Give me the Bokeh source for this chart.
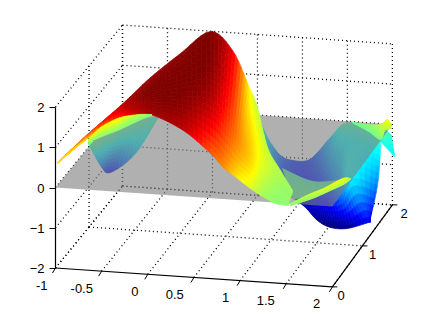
from bokeh.embed import file_html
from bokeh.resources import INLINE
from bokeh.plotting import figure
from bokeh.models import Range1d, LinearAxis, FixedTicker
from bokeh.core.properties import value

# ---- tick values and labels ----
x_ticks = [-1, -0.5, 0, 0.5, 1, 1.5, 2]
x_labels = ["-1", "-0.5", "0", "0.5", "1", "1.5", "2"]
y_ticks = [0, 1, 2]
y_labels = ["0", "1", "2"]
z_ticks = [-2, -1, 0, 1, 2]

# ---- surface sheets: rows of (x, y, z) ----
sheet_red_x = [
    [-0.919, -0.916, -0.914, -0.911],
    [-0.661, -0.700, -0.739, -0.796],
    [-0.436, -0.425, -0.430, -0.453],
    [-0.335, -0.285, -0.260, -0.261],
    [-0.272, -0.138, -0.046, 0.021],
    [-0.149, 0.096, 0.299, 0.460],
    [-0.009, 0.318, 0.569, 0.744],
    [0.242, 0.504, 0.732, 0.928],
    [0.379, 0.664, 0.917, 1.045],
    [0.554, 0.844, 1.074, 1.195],
    [0.992, 1.139, 1.228, 1.318],
    [1.301, 1.356, 1.421, 1.476],
    [1.559, 1.590, 1.605, 1.626],
]
sheet_red_y = [
    [-0.163, -0.170, -0.178, -0.186],
    [0.020, 0.129, 0.236, 0.392],
    [0.296, 0.266, 0.280, 0.343],
    [0.407, 0.268, 0.199, 0.201],
    [0.831, 0.462, 0.208, 0.023],
    [1.387, 0.741, 0.212, -0.202],
    [1.896, 0.995, 0.303, -0.178],
    [1.864, 1.050, 0.331, -0.296],
    [1.963, 1.056, 0.240, -0.203],
    [1.749, 0.888, 0.168, -0.226],
    [0.840, 0.375, 0.072, -0.207],
    [0.376, 0.164, -0.045, -0.255],
    [0.025, -0.092, -0.192, -0.281],
]
sheet_red_z = [
    [0.80, 0.80, 0.80, 0.80],
    [1.35, 1.20, 1.05, 0.85],
    [1.75, 1.70, 1.60, 1.45],
    [1.95, 1.95, 1.85, 1.70],
    [2.00, 2.10, 2.05, 1.95],
    [2.05, 2.10, 2.05, 1.85],
    [2.10, 2.05, 1.80, 1.30],
    [1.70, 1.60, 1.40, 1.10],
    [0.75, 0.95, 1.05, 0.75],
    [0.45, 0.70, 0.80, 0.55],
    [0.45, 0.55, 0.45, 0.35],
    [0.40, 0.35, 0.30, 0.25],
    [0.30, 0.30, 0.28, 0.25],
]

sheet_crest_x = [
    [-0.895, -0.920], [-0.805, -0.877], [-0.705, -0.757],
    [-0.649, -0.691], [-0.584, -0.614], [-0.526, -0.551],
]
sheet_crest_y = [
    [0.697, 0.766], [0.806, 1.005], [1.040, 1.182],
    [1.271, 1.388], [1.452, 1.534], [1.558, 1.629],
]
sheet_crest_z = [
    [0.50, 0.35], [0.70, 0.25], [0.70, 0.25],
    [0.55, 0.20], [0.40, 0.20], [0.30, 0.20],
]

sheet_left_x = [
    [-0.980, -0.980, -0.980],
    [-0.873, -0.907, -0.959],
    [-0.765, -0.857, -0.966],
    [-0.664, -0.648, -0.633],
    [-0.538, -0.538, -0.538],
]
sheet_left_y = [
    [0.930, 0.930, 0.930],
    [1.141, 1.161, 1.231],
    [1.353, 1.427, 1.549],
    [1.612, 1.493, 1.376],
    [1.803, 1.803, 1.803],
]
sheet_left_z = [
    [0.15, 0.15, 0.15],
    [0.15, -0.25, -0.70],
    [0.15, -0.50, -1.20],
    [0.10, -0.20, -0.50],
    [0.00, 0.00, 0.00],
]

sheet_bowl_x = [
    [0.513, 0.555, 0.597, 0.622],
    [0.638, 0.724, 0.809, 0.878],
    [0.771, 0.853, 0.961, 1.077],
    [0.862, 0.995, 1.119, 1.244],
    [1.005, 1.170, 1.328, 1.408],
    [1.108, 1.308, 1.502, 1.567],
    [1.251, 1.512, 1.740, 1.766],
    [1.468, 1.549, 1.861, 2.067],
    [1.857, 1.940, 2.034, 2.060],
]
sheet_bowl_y = [
    [1.890, 1.776, 1.660, 1.591],
    [1.815, 1.609, 1.404, 1.245],
    [1.838, 1.730, 1.552, 1.352],
    [1.975, 1.728, 1.504, 1.280],
    [1.997, 1.633, 1.317, 1.185],
    [2.012, 1.580, 1.197, 1.137],
    [2.007, 1.439, 0.987, 1.094],
    [1.916, 1.783, 0.954, 0.894],
    [1.829, 1.600, 1.251, 0.942],
]
sheet_bowl_z = [
    [0.10, 0.05, 0.00, -0.10],
    [-0.35, -0.45, -0.60, -0.80],
    [-0.80, -1.00, -1.15, -1.30],
    [-1.05, -1.15, -1.30, -1.45],
    [-1.05, -1.15, -1.30, -1.65],
    [-0.85, -1.00, -1.20, -1.75],
    [-0.45, -0.60, -0.85, -1.70],
    [0.05, -0.25, -0.30, -1.30],
    [0.05, -0.25, -0.75, -1.35],
]

sheet_wing_x = [[1.896, 1.899], [1.978, 2.118]]
sheet_wing_y = [[1.811, 1.715], [1.824, 1.530]]
sheet_wing_z = [[0.10, -0.15], [-0.10, -0.30]]

sheet_under_x = [[1.187, 1.577], [1.597, 1.775], [1.936, 1.944]]
sheet_under_y = [[0.751, 0.005], [0.545, 0.206], [0.598, 0.574]]
sheet_under_z = [[0.05, 0.10], [0.00, 0.10], [0.05, 0.05]]

sheet_band_x = [
    [1.647, 1.647], [1.807, 1.831], [1.944, 1.982], [2.089, 2.065], [2.070, 2.061],
]
sheet_band_y = [
    [-0.278, -0.278], [-0.181, -0.128], [-0.112, -0.008], [0.056, 0.151], [0.348, 0.371],
]
sheet_band_z = [
    [0.30, 0.25], [0.45, 0.30], [0.55, 0.40], [0.65, 0.40], [0.35, 0.30],
]

sheet_tip_x = [
    [1.553, 1.553], [1.768, 1.793], [1.959, 2.000], [2.056, 2.033], [2.105, 2.095],
]
sheet_tip_y = [
    [1.830, 1.830], [1.717, 1.648], [1.550, 1.435], [1.490, 1.464], [1.474, 1.473],
]
sheet_tip_z = [
    [0.15, 0.15], [0.25, 0.15], [0.45, 0.20], [0.65, 0.40], [0.50, 0.45],
]


def project(x, y, z):
    X = x + 1
    return 55 + 92.3 * X + 33.5 * y, 187 + 6.3 * X - 41 * y - 40.25 * z


def box(x, y, z):
    px, py = project(x, y, z)
    return px - 7 * (x + 1) * y / 6, py


def jet(z):
    t = max(0.0, min(1.0, (z + 1.7) / 3.8))
    ch = lambda c: max(0.0, min(1.0, 1.5 - abs(4 * t - c)))
    return "#%02x%02x%02x" % (round(255 * ch(3)), round(255 * ch(2)), round(255 * ch(1)))


p = figure(width=426, height=315, x_range=Range1d(0, 426), y_range=Range1d(315, 0),
           output_backend="svg", toolbar_location=None,
           x_axis_location=None, y_axis_location=None, min_border=0)
p.outline_line_color = None
p.grid.visible = False
p.background_fill_color = "white"
p.border_fill_color = "white"


def spline(v, t):
    """Catmull-Rom through a list of values, t in [0, len(v)-1]: smooth shading of a sheet."""
    n = len(v)
    i = min(int(t), n - 2)
    f = t - i
    p0 = v[max(i - 1, 0)]
    p1, p2 = v[i], v[i + 1]
    p3 = v[min(i + 2, n - 1)]
    return 0.5 * (2 * p1 + (p2 - p0) * f + (2 * p0 - 5 * p1 + 4 * p2 - p3) * f * f
                  + (3 * p1 - p0 - 3 * p2 + p3) * f * f * f)


def draw_sheet(sx, sy, sz, n=6):
    rows, cols = len(sx), len(sx[0])
    nu, nv = (rows - 1) * n, (cols - 1) * n

    def at(a, b):
        u, v = a / n, b / n
        return tuple(spline([spline(r, v) for r in g], u) for g in (sx, sy, sz))

    vert = [[at(a, b) for b in range(nv + 1)] for a in range(nu + 1)]
    xs, ys, cs = [], [], []
    for a in range(nu):
        for b in range(nv):
            corners = [vert[a][b], vert[a][b + 1], vert[a + 1][b + 1], vert[a + 1][b]]
            pts = [project(*c) for c in corners]
            xs.append([q[0] for q in pts])
            ys.append([q[1] for q in pts])
            cs.append(jet(sum(c[2] for c in corners) / 4))
    p.patches(xs, ys, fill_color=cs, line_color=cs, line_width=0.7)


def dotted(a, b):
    (x0, y0), (x1, y1) = box(*a), box(*b)
    p.line([x0, x1], [y0, y1], line_color="black", line_width=1.3, line_dash="1 3")


# grid on floor and walls
for x in x_ticks:
    dotted((x, 0, -2), (x, 2, -2))
    dotted((x, 2, -2), (x, 2, 2))
for y in y_ticks[1:]:
    dotted((-1, y, -2), (2, y, -2))
    dotted((-1, y, -2), (-1, y, 2))
for z in z_ticks:
    dotted((-1, 0, z), (-1, 2, z))
    dotted((-1, 2, z), (2, 2, z))

# sheets under the plane
draw_sheet(sheet_bowl_x, sheet_bowl_y, sheet_bowl_z)
draw_sheet(sheet_wing_x, sheet_wing_y, sheet_wing_z)
draw_sheet(sheet_under_x, sheet_under_y, sheet_under_z)
draw_sheet(sheet_left_x, sheet_left_y, sheet_left_z)

# translucent plane z = 0
plane = [box(-1, 0, 0), box(2, 0, 0), box(2, 2, 0), box(-1, 2, 0)]
p.patch([q[0] for q in plane], [q[1] for q in plane], fill_color="#808080", fill_alpha=0.62, line_color=None)

# sheets over the plane
draw_sheet(sheet_tip_x, sheet_tip_y, sheet_tip_z)
draw_sheet(sheet_band_x, sheet_band_y, sheet_band_z)
draw_sheet(sheet_red_x, sheet_red_y, sheet_red_z)
draw_sheet(sheet_crest_x, sheet_crest_y, sheet_crest_z)

# x and y axes with ticks and labels
ax0, ax1, ax2 = box(-1, 0, -2), box(2, 0, -2), box(2, 2, -2)
p.line([ax0[0], ax1[0], ax2[0]], [ax0[1], ax1[1], ax2[1]], line_color="black", line_width=1.2)
FONT = value("Liberation Sans")
SIZE = value("13px")
for t, lab in zip(x_ticks, x_labels):
    bx, by = box(t, 0, -2)
    p.line([bx, bx - 3], [by, by + 5], line_color="black", line_width=1)
    p.text([bx - 8 - 1.4 * (t + 1)], [by + 17], text=[lab], text_font=FONT, text_font_size=SIZE,
           text_align="right", text_baseline="middle", text_color="black")
for t, lab in zip(y_ticks, y_labels):
    bx, by = box(2, t, -2)
    p.line([bx, bx + 5], [by, by], line_color="black", line_width=1)
    p.text([bx + 5 + 1.5 * t], [by + 9], text=[lab], text_font=FONT, text_font_size=SIZE,
           text_align="left", text_baseline="middle", text_color="black")

# z axis: a real axis fixed at the left corner of the box
p.extra_y_ranges = {"z": Range1d(-2 - (315 - 268) / 40.25, -2 + 268 / 40.25)}
zaxis = LinearAxis(y_range_name="z", ticker=FixedTicker(ticks=z_ticks), bounds=(-2, 2))
zaxis.fixed_location = 55
zaxis.axis_line_color = "black"
zaxis.axis_line_width = 1.2
zaxis.major_tick_line_color = "black"
zaxis.major_tick_out = 6
zaxis.major_tick_in = 0
zaxis.minor_tick_line_color = None
zaxis.major_label_standoff = 5
zaxis.major_label_text_font = "Liberation Sans"
zaxis.major_label_text_font_size = "13px"
zaxis.major_label_text_color = "black"
p.add_layout(zaxis, "left")

open("out.html", "w").write(file_html(p, INLINE))
